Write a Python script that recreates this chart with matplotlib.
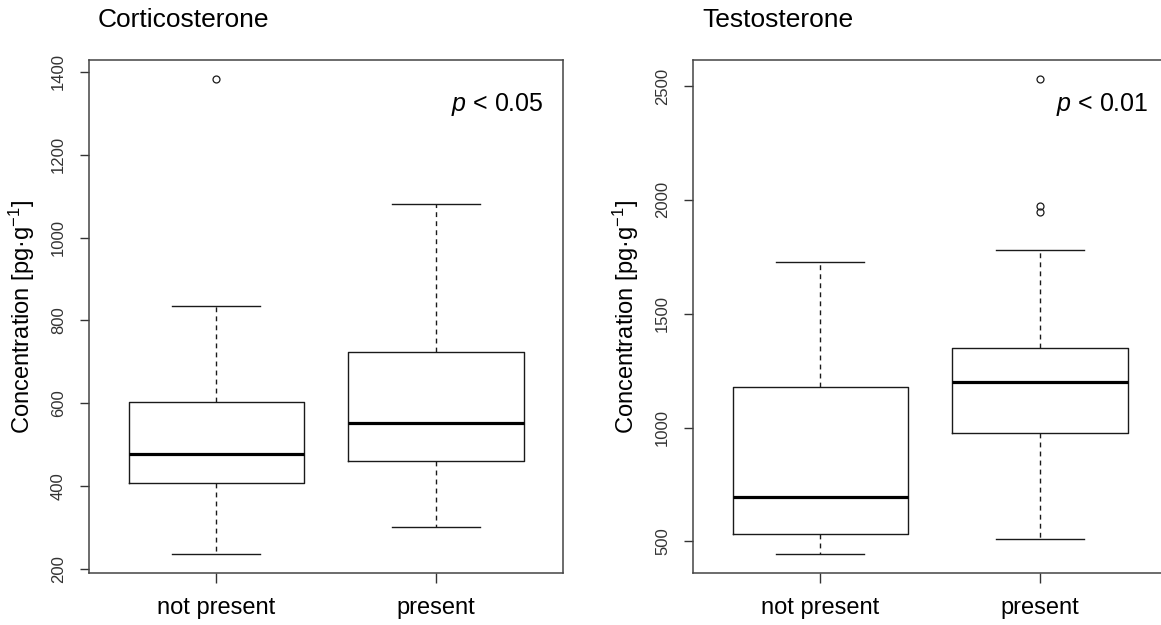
import matplotlib
matplotlib.use("Agg")
import matplotlib.pyplot as plt

plt.rcParams['font.family'] = ['Liberation Sans', 'DejaVu Sans']
plt.rcParams['mathtext.fontset'] = 'custom'
plt.rcParams['mathtext.rm'] = 'Liberation Sans'
plt.rcParams['mathtext.it'] = 'Liberation Sans:italic'

# groups on the x axis
groups = ["not present", "present"]

# Corticosterone box stats
cort_whislo = [236, 301]
cort_q1 = [408, 461]
cort_med = [478, 552]
cort_q3 = [604, 723]
cort_whishi = [835, 1081]
cort_fliers = [[1383], []]

# Testosterone box stats
testo_whislo = [445, 513]
testo_q1 = [535, 975]
testo_med = [697, 1199]
testo_q3 = [1177, 1348]
testo_whishi = [1726, 1779]
testo_fliers = [[], [2531, 1973, 1946]]

panels = [
    ("Corticosterone", cort_whislo, cort_q1, cort_med, cort_q3, cort_whishi,
     cort_fliers, [200, 400, 600, 800, 1000, 1200, 1400], "p < 0.05"),
    ("Testosterone", testo_whislo, testo_q1, testo_med, testo_q3, testo_whishi,
     testo_fliers, [500, 1000, 1500, 2000, 2500], "p < 0.01"),
]

W, H = 1161, 625
fig = plt.figure(figsize=(W / 100, H / 100), dpi=100)
lefts = [89, 693]
ax_w = 474
top, bottom = 60, 573

ink = '#1a1a1a'
for (title, wlo, q1, med, q3, whi, fl, yt, ptxt), x0 in zip(panels, lefts):
    ax = fig.add_axes([x0 / W, 1 - bottom / H, ax_w / W, (bottom - top) / H])
    stats = []
    for i, g in enumerate(groups):
        stats.append(dict(label=g, whislo=wlo[i], q1=q1[i], med=med[i],
                          q3=q3[i], whishi=whi[i], fliers=fl[i]))
    ax.bxp(stats, positions=[1, 2], widths=0.8, showfliers=True,
           boxprops=dict(color=ink, linewidth=1.0),
           medianprops=dict(color='black', linewidth=2.3, solid_capstyle='butt'),
           whiskerprops=dict(color=ink, linewidth=1.0, linestyle=(0, (3.5, 3))),
           capprops=dict(color=ink, linewidth=1.0),
           capwidths=0.4,
           flierprops=dict(marker='o', markersize=5, markerfacecolor='none',
                           markeredgecolor=ink, markeredgewidth=0.9))
    # R-style 4% padding
    lo = min(min(wlo), min([min(f) for f in fl if f] + [1e9]))
    hi = max(max(whi), max([max(f) for f in fl if f] + [-1e9]))
    pad = (hi - lo) * 0.04
    ax.set_ylim(lo - pad, hi + pad)
    ax.set_xlim(0.42, 2.58)
    ax.set_yticks(yt)
    ax.set_yticklabels([str(v) for v in yt])
    ax.set_xticks([1, 2])
    ax.set_xticklabels(groups)
    ax.tick_params(axis='y', length=6.5, width=1.0, pad=10, labelsize=12,
                   colors='#333333')
    ax.tick_params(axis='x', length=7, width=1.0, pad=10, labelsize=17,
                   colors='#333333', labelcolor='black')
    plt.setp(ax.get_yticklabels(), rotation=90, va='center')
    for s in ax.spines.values():
        s.set_color('#444444')
        s.set_linewidth(1.1)
    ax.text(-0.141, 0.5, 'Concentration [pg·g$^{-1}$]', rotation=90,
            ha='center', va='center', fontsize=17, transform=ax.transAxes)
    ax.text(0.019, 1 + 40 / (bottom - top), title, ha='left', va='center',
            fontsize=19, transform=ax.transAxes)
    p, rest = ptxt.split(' ', 1)
    ax.text(1 - 19 / ax_w, 1 - 45 / (bottom - top), r'$p$ ' + rest,
            ha='right', va='center', fontsize=18, transform=ax.transAxes)

fig.savefig('out.png', dpi=100)
